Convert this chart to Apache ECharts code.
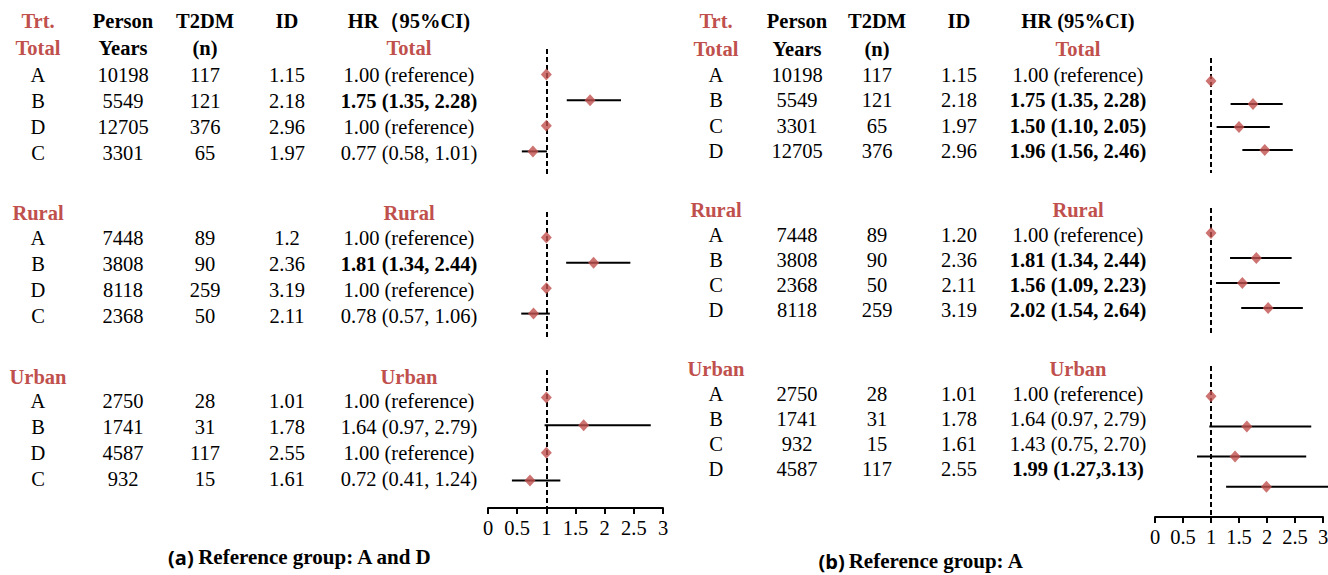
<!DOCTYPE html>
<html>
<head>
<meta charset="utf-8">
<script src="https://cdn.jsdelivr.net/npm/echarts@6/dist/echarts.min.js"></script>
<style>
  html, body { margin: 0; padding: 0; background: #fff; }
  #chart { width: 1328px; height: 575px; }
</style>
</head>
<body>
<div id="chart"></div>
<script>
  // ---- data ----
  const sections = ["Total", "Rural", "Urban"];
  const xTicks = [0, 0.5, 1, 1.5, 2, 2.5, 3];

  // (a) reference group: A and D
  const trtA = ["A", "B", "D", "C"];
  const pyA = [[10198, 5549, 12705, 3301], [7448, 3808, 8118, 2368], [2750, 1741, 4587, 932]];
  const t2dmA = [[117, 121, 376, 65], [89, 90, 259, 50], [28, 31, 117, 15]];
  const idA = [["1.15", "2.18", "2.96", "1.97"], ["1.2", "2.36", "3.19", "2.11"], ["1.01", "1.78", "2.55", "1.61"]];
  const hrA = [[1, 1.75, 1, 0.77], [1, 1.81, 1, 0.78], [1, 1.64, 1, 0.72]];
  const loA = [[null, 1.35, null, 0.58], [null, 1.34, null, 0.57], [null, 0.97, null, 0.41]];
  const hiA = [[null, 2.28, null, 1.01], [null, 2.44, null, 1.06], [null, 2.79, null, 1.24]];
  const hrTextA = [
    ["1.00 (reference)", "1.75 (1.35, 2.28)", "1.00 (reference)", "0.77 (0.58, 1.01)"],
    ["1.00 (reference)", "1.81 (1.34, 2.44)", "1.00 (reference)", "0.78 (0.57, 1.06)"],
    ["1.00 (reference)", "1.64 (0.97, 2.79)", "1.00 (reference)", "0.72 (0.41, 1.24)"]
  ];
  const sigA = [[0, 1, 0, 0], [0, 1, 0, 0], [0, 0, 0, 0]];

  // (b) reference group: A
  const trtB = ["A", "B", "C", "D"];
  const pyB = [[10198, 5549, 3301, 12705], [7448, 3808, 2368, 8118], [2750, 1741, 932, 4587]];
  const t2dmB = [[117, 121, 65, 376], [89, 90, 50, 259], [28, 31, 15, 117]];
  const idB = [["1.15", "2.18", "1.97", "2.96"], ["1.20", "2.36", "2.11", "3.19"], ["1.01", "1.78", "1.61", "2.55"]];
  const hrB = [[1, 1.75, 1.5, 1.96], [1, 1.81, 1.56, 2.02], [1, 1.64, 1.43, 1.99]];
  const loB = [[null, 1.35, 1.1, 1.56], [null, 1.34, 1.09, 1.54], [null, 0.97, 0.75, 1.27]];
  const hiB = [[null, 2.28, 2.05, 2.46], [null, 2.44, 2.23, 2.64], [null, 2.79, 2.7, 3.13]];
  const hrTextB = [
    ["1.00 (reference)", "1.75 (1.35, 2.28)", "1.50 (1.10, 2.05)", "1.96 (1.56, 2.46)"],
    ["1.00 (reference)", "1.81 (1.34, 2.44)", "1.56 (1.09, 2.23)", "2.02 (1.54, 2.64)"],
    ["1.00 (reference)", "1.64 (0.97, 2.79)", "1.43 (0.75, 2.70)", "1.99 (1.27,3.13)"]
  ];
  const sigB = [[0, 1, 1, 1], [0, 1, 1, 1], [0, 0, 0, 1]];

  // ---- layout ----
  const RED = "#c0504d";
  const SERIF = "'Liberation Serif', 'Times New Roman', serif";
  const FS = 20.5;

  const panels = [
    {
      trt: trtA, py: pyA, n: t2dmA, id: idA, hr: hrA, lo: loA, hi: hiA, text: hrTextA, sig: sigA,
      hrHead: "HR（95%CI)", tag: "(a)", caption: "Reference group: A and D",
      cols: [38, 123, 205, 287, 409], headY: [21, 48],
      secY: [[48, 75, 101, 127, 153], [213, 238, 264, 290, 316], [377, 401, 427, 453, 479]],
      grids: [[49, 128], [212, 127], [370, 138]], gx: [488, 175], cap: [300, 557]
    },
    {
      trt: trtB, py: pyB, n: t2dmB, id: idB, hr: hrB, lo: loB, hi: hiB, text: hrTextB, sig: sigB,
      hrHead: "HR (95%CI)", tag: "(b)", caption: "Reference group: A",
      cols: [716, 797, 877, 959, 1078], headY: [21, 49],
      secY: [[49, 75, 100, 126, 151], [210, 235, 260, 285, 310], [369, 394, 419, 444, 469]],
      grids: [[58, 115], [208, 125], [366, 151]], gx: [1155, 168], cap: [921, 561]
    }
  ];

  const txt = (x, y, s, opt = {}) => ({
    type: "text",
    silent: true,
    style: {
      x, y, text: String(s),
      font: `${opt.bold ? "bold " : ""}${opt.size || FS}px ${opt.family || SERIF}`,
      fill: opt.color || "#000",
      align: "center", verticalAlign: "middle",
      textAlign: "center", textVerticalAlign: "middle"
    }
  });

  const graphics = [];
  const grid = [], xAxis = [], yAxis = [], series = [];

  panels.forEach(p => {
    const c = p.cols;
    // header
    graphics.push(txt(c[0], p.headY[0], "Trt.", { bold: true, color: RED }));
    graphics.push(txt(c[1], p.headY[0], "Person", { bold: true }));
    graphics.push(txt(c[2], p.headY[0], "T2DM", { bold: true }));
    graphics.push(txt(c[3], p.headY[0], "ID", { bold: true }));
    graphics.push(txt(c[4], p.headY[0], p.hrHead, { bold: true }));
    graphics.push(txt(c[1], p.headY[1], "Years", { bold: true }));
    graphics.push(txt(c[2], p.headY[1], "(n)", { bold: true }));

    sections.forEach((sec, s) => {
      const ys = p.secY[s];
      graphics.push(txt(c[0], ys[0], sec, { bold: true, color: RED }));
      graphics.push(txt(c[4], ys[0], sec, { bold: true, color: RED }));
      p.trt.forEach((t, i) => {
        const y = ys[i + 1];
        graphics.push(txt(c[0], y, t));
        graphics.push(txt(c[1], y, p.py[s][i]));
        graphics.push(txt(c[2], y, p.n[s][i]));
        graphics.push(txt(c[3], y, p.id[s][i]));
        graphics.push(txt(c[4], y, p.text[s][i], { bold: !!p.sig[s][i] }));
      });

      // forest plot grid for this section
      const gi = grid.length;
      const last = s === sections.length - 1;
      grid.push({
        left: p.gx[0], width: p.gx[1], top: p.grids[s][0], height: p.grids[s][1],
        containLabel: false, outerBoundsMode: "none"
      });
      xAxis.push({
        type: "value", gridIndex: gi, min: 0, max: 3, interval: 0.5,
        show: last, position: "bottom",
        axisLine: { show: true, onZero: false, lineStyle: { color: "#000", width: 2 } },
        axisTick: { show: true, length: 6, lineStyle: { color: "#000", width: 2 } },
        axisLabel: {
          margin: 9, color: "#000", fontFamily: SERIF, fontSize: FS,
          customValues: xTicks, formatter: v => String(v)
        },
        splitLine: { show: false }
      });
      yAxis.push({ type: "value", gridIndex: gi, min: -1, max: 4, inverse: true, show: false });

      series.push({
        type: "custom",
        xAxisIndex: gi, yAxisIndex: gi,
        clip: false, silent: true, z: 2,
        data: p.trt.map((t, i) => [p.lo[s][i], p.hi[s][i], i]).filter(d => d[0] != null),
        encode: { x: [0, 1], y: 2 },
        renderItem: (params, api) => {
          const a = api.coord([api.value(0), api.value(2)]);
          const b = api.coord([api.value(1), api.value(2)]);
          return {
            type: "line",
            shape: { x1: a[0], y1: a[1], x2: b[0], y2: b[1] },
            style: { stroke: "#000", lineWidth: 2 }
          };
        }
      });
      series.push({
        type: "scatter",
        xAxisIndex: gi, yAxisIndex: gi,
        silent: true, z: 5,
        symbol: "diamond", symbolSize: [11, 12],
        itemStyle: { color: RED },
        data: p.hr[s].map((v, i) => [v, i]),
        markLine: {
          silent: true, symbol: "none", z: 3,
          label: { show: false },
          lineStyle: { color: "#000", width: 2, type: [5, 3] },
          data: [{ xAxis: 1 }]
        }
      });
    });

    // caption
    graphics.push({
      type: "text", silent: true,
      style: {
        x: p.cap[0], y: p.cap[1],
        text: `{t|${p.tag}} {c|${p.caption}}`,
        align: "center", verticalAlign: "middle",
        textAlign: "center", textVerticalAlign: "middle",
        rich: {
          t: { fontFamily: "'Open Sans', 'Liberation Sans', sans-serif", fontWeight: "bold", fontSize: 20, fill: "#000", color: "#000" },
          c: { fontFamily: SERIF, fontWeight: "bold", fontSize: 21, fill: "#000", color: "#000" }
        }
      }
    });
  });

  const chart = echarts.init(document.getElementById("chart"), null, { renderer: "svg" });
  chart.setOption({
    backgroundColor: "#fff",
    animation: false,
    grid, xAxis, yAxis, series,
    graphic: graphics
  });
  window.addEventListener("resize", () => chart.resize());
</script>
</body>
</html>
